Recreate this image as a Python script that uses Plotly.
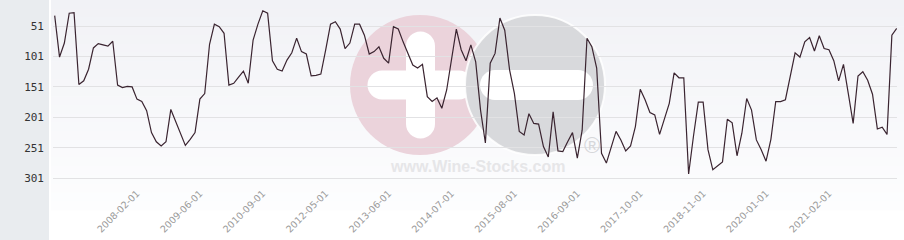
import plotly.graph_objects as go

# ---------------- data ----------------
rank_values = [
    34, 102, 79, 30, 29, 147, 141, 122, 87, 80,
    82, 84, 76, 148, 152, 150, 151, 171, 175, 190,
    226, 241, 248, 241, 188, 208, 228, 247, 237, 226,
    171, 162, 81, 48, 52, 63, 148, 145, 135, 125,
    145, 74, 48, 26, 30, 108, 122, 125, 107, 95,
    71, 93, 97, 133, 132, 130, 90, 48, 44, 56,
    88, 79, 48, 48, 66, 97, 93, 85, 104, 112,
    52, 56, 77, 97, 115, 120, 114, 167, 175, 169,
    186, 156, 106, 56, 90, 108, 82, 110, 189, 243,
    112, 96, 38, 58, 123, 162, 224, 230, 195, 211,
    212, 249, 266, 192, 256, 257, 241, 226, 268, 222,
    71, 85, 120, 260, 276, 250, 224, 238, 256, 248,
    216, 155, 172, 193, 197, 229, 205, 178, 128, 136,
    136, 294, 232, 176, 176, 254, 287, 280, 274, 204,
    210, 264, 227, 170, 189, 238, 254, 273, 237, 175,
    175, 172, 134, 95, 102, 77, 70, 92, 67, 88,
    90, 108, 141, 114, 162, 211, 133, 126, 140, 163,
    220, 217, 229, 66, 55,
]
point_index = list(range(len(rank_values)))

x_tick_positions = [17, 30, 43, 56, 69, 82, 95, 108, 121, 134, 147, 160]
x_tick_labels = [
    "2008-02-01", "2009-06-01", "2010-09-01", "2012-05-01",
    "2013-06-01", "2014-07-01", "2015-08-01", "2016-09-01",
    "2017-10-01", "2018-11-01", "2020-01-01", "2021-02-01",
]
y_tick_values = [51, 101, 151, 201, 251, 301]
y_tick_labels = ["51", "101", "151", "201", "251", "301"]

# ---------------- layout geometry ----------------
W, H = 904, 240
ML, MR, MT, MB = 53, 7, 0, 50
PW = W - ML - MR
PH = H - MT - MB


def px(x):
    return (x - ML) / PW


def py(y):
    return (MT + PH - y) / PH


K = 0.5523


def pill(cx, cy, hl, ht, vertical=False):
    r = ht
    x0, x1 = cx - hl, cx + hl
    pts = [
        ("M", [(x0 + r, cy - r)]),
        ("L", [(x1 - r, cy - r)]),
        ("C", [(x1 - r + K * r, cy - r), (x1, cy - K * r), (x1, cy)]),
        ("C", [(x1, cy + K * r), (x1 - r + K * r, cy + r), (x1 - r, cy + r)]),
        ("L", [(x0 + r, cy + r)]),
        ("C", [(x0 + r - K * r, cy + r), (x0, cy + K * r), (x0, cy)]),
        ("C", [(x0, cy - K * r), (x0 + r - K * r, cy - r), (x0 + r, cy - r)]),
    ]
    out = []
    for cmd, plist in pts:
        coords = []
        for (a, b) in plist:
            if vertical:
                a, b = cx + (b - cy), cy + (a - cx)
            coords.append(f"{px(a):.5f},{py(b):.5f}")
        out.append(cmd + " ".join(coords))
    return " ".join(out) + " Z"


shapes = []

# left grey panel
shapes.append(dict(type="rect", xref="paper", yref="paper",
                   x0=px(0), x1=px(49), y0=py(H + 5), y1=py(-5),
                   fillcolor="#e9ecef", line=dict(width=0), layer="below"))

# plot background gradient (bands)
n_bands = 24
top_c = (241, 242, 246)
bot_c = (253, 253, 254)
band_h = (PH + 20) / n_bands
for i in range(n_bands):
    t = i / (n_bands - 1)
    c = tuple(round(top_c[j] + (bot_c[j] - top_c[j]) * t) for j in range(3))
    shapes.append(dict(type="rect", xref="paper", yref="paper",
                       x0=px(51), x1=px(W + 2),
                       y0=py(i * band_h + band_h + 0.5), y1=py(i * band_h),
                       fillcolor=f"rgb{c}", line=dict(width=0), layer="below"))

# watermark: pink circle with plus, grey circle with minus
PINK = "#ebd3db"
GREY = "#d8d9dc"
cy_logo = 85
shapes.append(dict(type="circle", xref="paper", yref="paper",
                   x0=px(420 - 70), x1=px(420 + 70),
                   y0=py(cy_logo + 70), y1=py(cy_logo - 70),
                   fillcolor=PINK, line=dict(width=0), layer="below"))
shapes.append(dict(type="path", xref="paper", yref="paper",
                   path=pill(420.5, cy_logo, 53, 14.5, vertical=False),
                   fillcolor="white", line=dict(width=0), layer="below"))
shapes.append(dict(type="path", xref="paper", yref="paper",
                   path=pill(420.5, cy_logo, 53.5, 14.5, vertical=True),
                   fillcolor="white", line=dict(width=0), layer="below"))
shapes.append(dict(type="circle", xref="paper", yref="paper",
                   x0=px(535 - 70), x1=px(535 + 70),
                   y0=py(cy_logo + 70), y1=py(cy_logo - 70),
                   fillcolor=GREY, line=dict(width=2, color="rgba(255,255,255,0.85)"),
                   layer="below"))
shapes.append(dict(type="path", xref="paper", yref="paper",
                   path=pill(536.5, cy_logo, 56.5, 15, vertical=False),
                   fillcolor="white", line=dict(width=0), layer="below"))

annotations = [
    dict(xref="paper", yref="paper", x=px(477), y=py(166.5),
         text="<b>www.Wine-Stocks.com</b>", showarrow=False,
         font=dict(family="Liberation Sans", size=16, color="#e6e6e8"),
         xanchor="center", yanchor="middle"),
    dict(xref="paper", yref="paper", x=px(592), y=py(145.5),
         text="®", showarrow=False,
         font=dict(family="Liberation Sans", size=22, color="#d6d7da"),
         xanchor="center", yanchor="middle"),
]

fig = go.Figure()
fig.add_trace(go.Scatter(
    x=point_index, y=rank_values, mode="lines",
    line=dict(color="#3a2430", width=1.2),
    hoverinfo="skip", showlegend=False,
))

y_top = 51 - 26 * 250 / 152.3
y_bot = 51 + (PH - 26) * 250 / 152.3

fig.update_layout(
    width=W, height=H, autosize=False,
    margin=dict(l=ML, r=MR, t=MT, b=MB, pad=0),
    paper_bgcolor="white",
    plot_bgcolor="rgba(0,0,0,0)",
    shapes=shapes,
    annotations=annotations,
    showlegend=False,
    xaxis=dict(
        range=[-0.35, 174.06], automargin=False,
        tickmode="array", tickvals=x_tick_positions, ticktext=x_tick_labels,
        tickangle=-45, showgrid=False, zeroline=False, showline=False,
        ticks="", tickfont=dict(family="DejaVu Sans", size=9.5, color="#9a9a9a"),
        ticklabelstandoff=-5,
    ),
    yaxis=dict(
        range=[y_bot, y_top], automargin=False,
        tickmode="array", tickvals=y_tick_values, ticktext=y_tick_labels,
        showgrid=True, gridcolor="#e2e2e4", gridwidth=1,
        zeroline=False, showline=False, ticks="",
        tickfont=dict(family="DejaVu Sans Mono", size=11, color="#333333"),
        ticklabelstandoff=8,
    ),
)

fig.write_html("out.html")
